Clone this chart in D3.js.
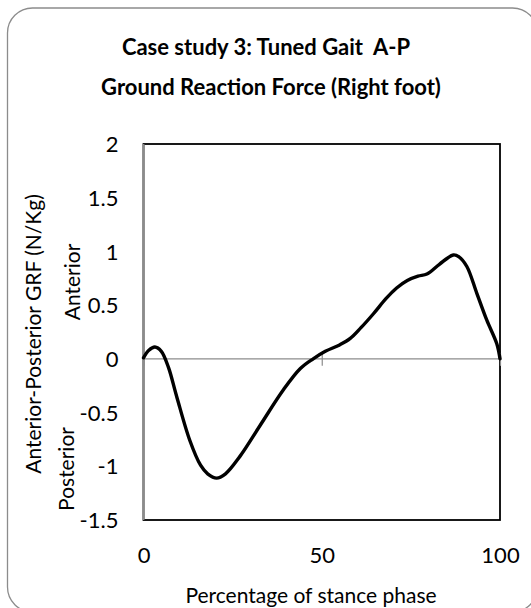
<!DOCTYPE html>
<html><head><meta charset="utf-8">
<script src="https://cdn.jsdelivr.net/npm/d3@7"></script>
<style>body{margin:0;background:#fff}svg{display:block}text{font-family:Lato,"Open Sans",sans-serif;fill:#000;white-space:pre}</style>
</head><body><svg id="c" width="531" height="608"></svg>
<script>
const titleLines = ["Case study 3: Tuned Gait  A-P", "Ground Reaction Force (Right foot)"];
const xLabel = "Percentage of stance phase";
const yLabel = "Anterior-Posterior GRF (N/Kg)";
const xTicks = [0, 50, 100];
const yTicks = [-1.5, -1, -0.5, 0, 0.5, 1, 1.5, 2];
const stancePct = [0,1.5,3.2,5,7,9.3,13,16,18,20.5,23,27,32.7,39.2,44,47.6,51,55,58,61,64.5,68,71,74,77,79.5,83,86.9,88.5,90.7,93.5,96.3,99.1,100];
const grf = [0.01,0.08,0.11,0.07,-0.08,-0.35,-0.76,-0.99,-1.07,-1.11,-1.07,-0.91,-0.62,-0.29,-0.09,0.0,0.07,0.13,0.19,0.29,0.42,0.56,0.66,0.73,0.77,0.79,0.88,0.967,0.95,0.86,0.61,0.36,0.14,0.0];

const svg = d3.select("#c");
svg.append("rect").attr("x",7.5).attr("y",8).attr("width",530).attr("height",604).attr("rx",25)
  .attr("fill","#fff").attr("stroke","#8c8c8c").attr("stroke-width",1.3);

const L=143.5,R=500,T=144,B=520;
const x = d3.scaleLinear().domain([0,100]).range([L,R]);
const y = d3.scaleLinear().domain([-1.5,2]).range([B,T]);
const fmt = d => String(d);

svg.append("rect").attr("x",L).attr("y",T).attr("width",R-L).attr("height",B-T)
  .attr("fill","none").attr("stroke","#000").attr("stroke-width",1.8);

const xa = svg.append("g").attr("transform",`translate(0,${y(0)})`)
  .call(d3.axisBottom(x).tickValues(xTicks).tickSize(7).tickFormat(""));
xa.select(".domain").remove();
xa.selectAll("line").attr("y1",-6).attr("stroke","#8c8c8c").attr("stroke-width",1.2);
svg.append("line").attr("x1",L).attr("x2",R).attr("y1",y(0)).attr("y2",y(0))
  .attr("stroke","#8c8c8c").attr("stroke-width",1.3);
svg.append("line").attr("x1",L).attr("x2",L).attr("y1",T).attr("y2",B)
  .attr("stroke","#8c8c8c").attr("stroke-width",2);

const ya = svg.append("g").attr("transform",`translate(${L},0)`)
  .call(d3.axisLeft(y).tickValues(yTicks).tickSize(0).tickPadding(25).tickFormat(fmt));
ya.select(".domain").remove();
ya.selectAll("text").style("font-size","22px").attr("dy","0.35em");
const xb = svg.append("g").attr("transform",`translate(0,${B})`)
  .call(d3.axisBottom(x).tickValues(xTicks).tickSize(0).tickPadding(0).tickFormat(fmt));
xb.select(".domain").remove();
xb.selectAll("text").style("font-size","22px").attr("y",35).attr("dy","0.35em");

const line = d3.line().x((d,i)=>x(stancePct[i])).y(d=>y(d)).curve(d3.curveCatmullRom.alpha(0.5));
svg.append("path").datum(grf).attr("d",line).attr("fill","none").attr("stroke","#000")
  .attr("stroke-width",3.4).attr("stroke-linejoin","round").attr("stroke-linecap","round");

svg.append("text").attr("x",266).attr("y",47).attr("text-anchor","middle").attr("dy","0.35em")
  .style("font-size","22px").style("font-weight","bold").text(titleLines[0]);
svg.append("text").attr("x",271).attr("y",87).attr("text-anchor","middle").attr("dy","0.35em")
  .style("font-size","22px").style("font-weight","bold").text(titleLines[1]);
svg.append("text").attr("x",311).attr("y",596).attr("text-anchor","middle").attr("dy","0.35em")
  .style("font-size","21px").text(xLabel);
svg.append("text").attr("transform","translate(34,334) rotate(-90)").attr("text-anchor","middle").attr("dy","0.35em")
  .style("font-size","21px").text(yLabel);
svg.append("text").attr("transform","translate(73,282) rotate(-90)").attr("text-anchor","middle").attr("dy","0.35em")
  .style("font-size","21px").text("Anterior");
svg.append("text").attr("transform","translate(67,469) rotate(-90)").attr("text-anchor","middle").attr("dy","0.35em")
  .style("font-size","21px").text("Posterior");
</script></body></html>
